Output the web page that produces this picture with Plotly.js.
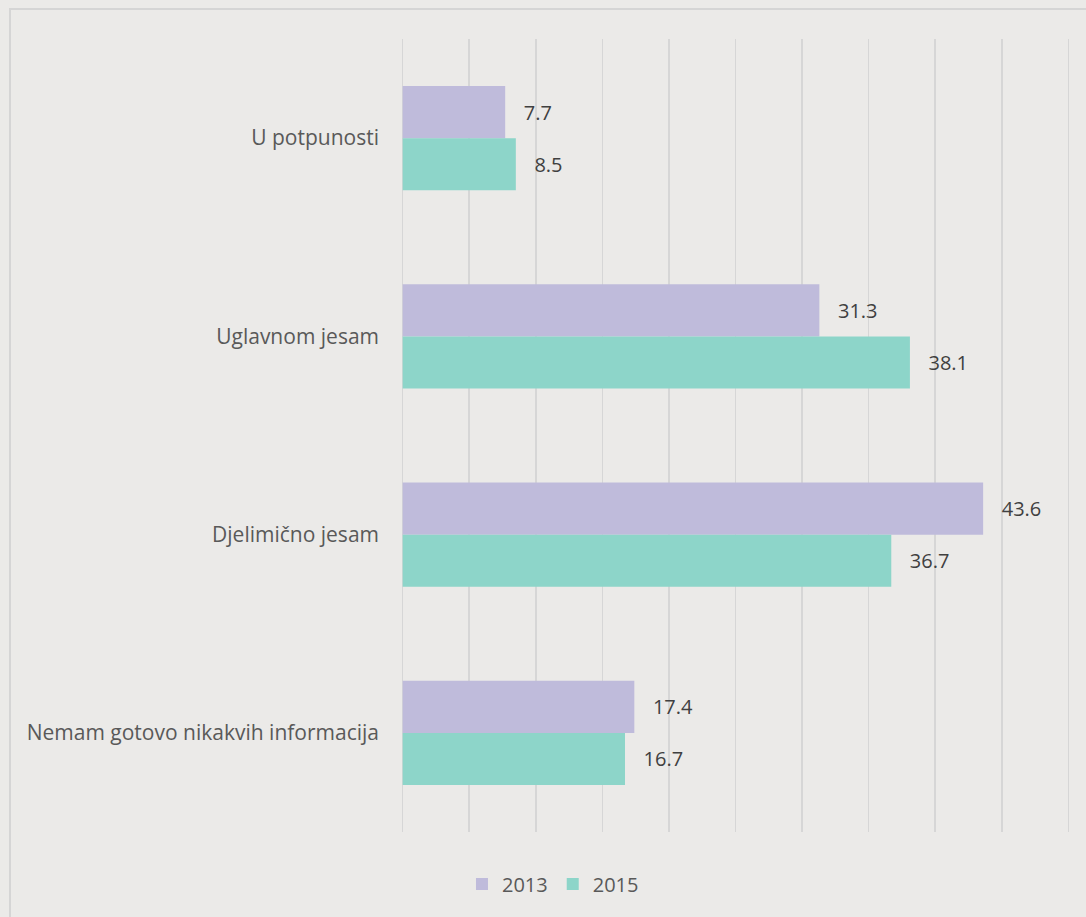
<!DOCTYPE html>
<html>
<head>
<meta charset="utf-8">
<script src="https://cdn.plot.ly/plotly-3.0.1.min.js"></script>
<style>html,body{margin:0;padding:0;background:#ebeae8;}#chart{width:1086px;height:917px;}</style>
</head>
<body>
<div id="chart"></div>
<script>
var categories = ["U potpunosti", "Uglavnom jesam", "Djelimično jesam", "Nemam gotovo nikakvih informacija"];
var seriesNames = ["2013", "2015"];
var values2013 = [7.7, 31.3, 43.6, 17.4];
var values2015 = [8.5, 38.1, 36.7, 16.7];
var colors = ["#bfbbdb", "#8dd5c9"];

var labelFont = {family: "Open Sans, sans-serif", size: 20, color: "#404040"};

var traces = [values2013, values2015].map(function (vals, i) {
  return {
    type: "bar",
    orientation: "h",
    name: seriesNames[i],
    y: categories,
    x: vals,
    marker: {color: colors[i]},
    text: vals.map(function (v) { return v.toFixed(1); }),
    texttemplate: "\u00a0\u00a0\u00a0%{text}",
    textposition: "outside",
    textfont: labelFont,
    cliponaxis: false,
    hoverinfo: "x+y"
  };
});

var layout = {
  width: 1086,
  height: 917,
  paper_bgcolor: "#ebeae8",
  plot_bgcolor: "rgba(0,0,0,0)",
  margin: {l: 400, r: 15, t: 39, b: 85},
  barmode: "group",
  bargap: 0.475,
  bargroupgap: 0,
  font: {family: "Open Sans, sans-serif", size: 20, color: "#595959"},
  xaxis: {
    range: [-0.2, 50.2],
    tick0: 0,
    dtick: 5,
    showgrid: true,
    gridcolor: "#d6d6d6",
    gridwidth: 1.5,
    zeroline: false,
    showticklabels: false,
    showline: false,
    ticks: ""
  },
  yaxis: {
    autorange: "reversed",
    showgrid: false,
    showline: false,
    ticks: "",
    ticklabelstandoff: 20,
    tickfont: {family: "Open Sans, sans-serif", size: 21, color: "#595959"}
  },
  showlegend: true,
  legend: {
    orientation: "h",
    xref: "paper",
    x: 0.228,
    xanchor: "center",
    yref: "container",
    y: 0.036,
    yanchor: "middle",
    font: {family: "Open Sans, sans-serif", size: 20, color: "#595959"},
    bgcolor: "rgba(0,0,0,0)",
    itemwidth: 30,
    traceorder: "normal"
  },
  shapes: [{
    type: "rect",
    xref: "paper", yref: "paper",
    x0: -0.5812, x1: 1.04, y0: -0.12, y1: 1.0378,
    line: {color: "#d5d5d5", width: 2},
    fillcolor: "rgba(0,0,0,0)",
    layer: "below"
  }]
};

Plotly.newPlot("chart", traces, layout, {displayModeBar: false, staticPlot: true});
</script>
</body>
</html>
